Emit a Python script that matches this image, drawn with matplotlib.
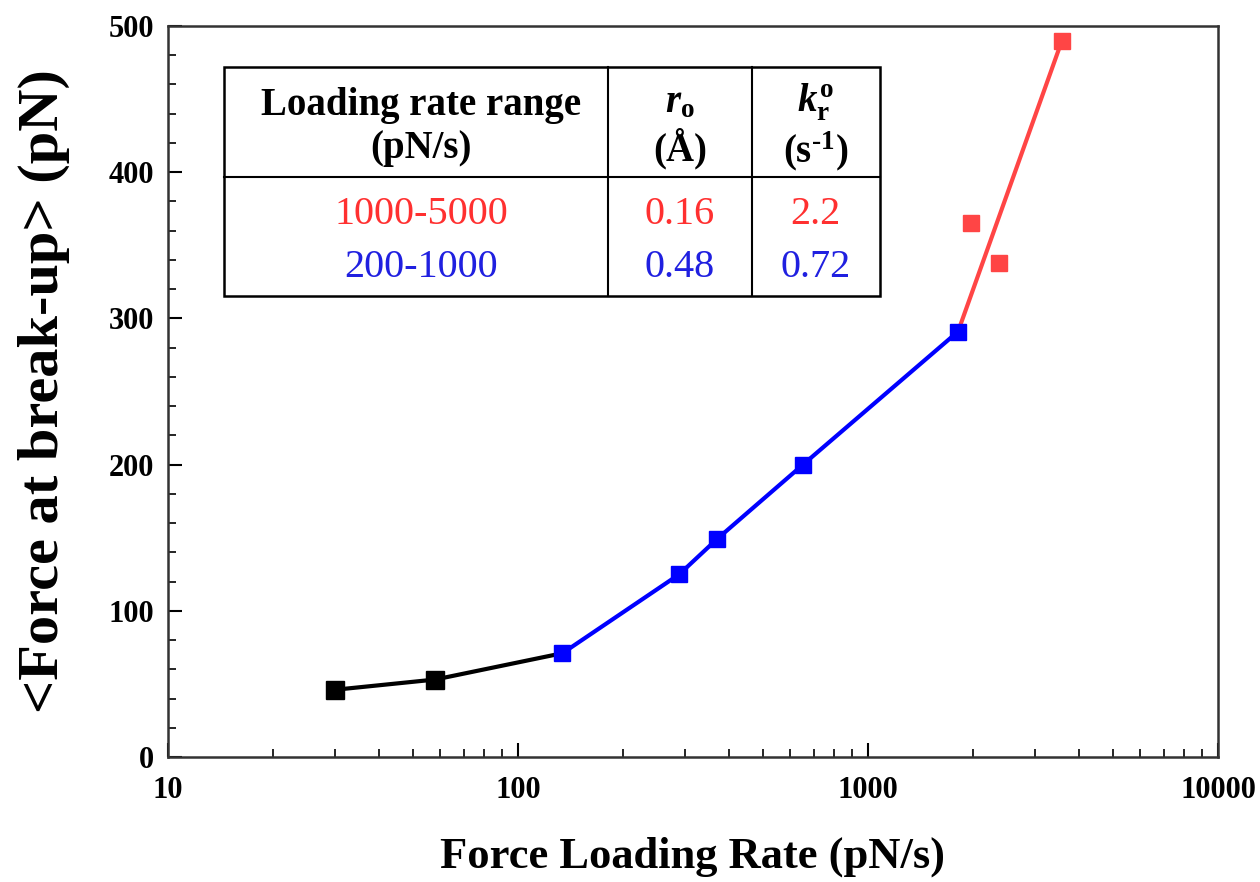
import matplotlib
matplotlib.use("Agg")
import matplotlib.pyplot as plt
from matplotlib.ticker import FixedLocator, MultipleLocator, LogLocator, NullFormatter

plt.rcParams['font.family'] = ['Liberation Serif', 'DejaVu Serif']
plt.rcParams['mathtext.fontset'] = 'custom'
plt.rcParams['mathtext.rm'] = 'Liberation Serif:bold'
plt.rcParams['mathtext.it'] = 'Liberation Serif:italic:bold'
plt.rcParams['mathtext.bf'] = 'Liberation Serif:bold'

# Data
black_x = [30, 58, 134]
black_y = [46, 53, 71]
blue_x = [134, 289, 370, 652, 1808]
blue_y = [71, 125, 149, 200, 291]
red_x = [1967, 2366, 3581]
red_y = [365, 338, 490]

x_ticks = [10, 100, 1000, 10000]
x_ticklabels = ["10", "100", "1000", "10000"]
y_ticks = [0, 100, 200, 300, 400, 500]

table_header = ["Loading rate range\n(pN/s)", "$r_{\\rm o}$\n(Å)", "$k_{\\rm r}^{\\rm o}$\n(s$^{\\text{-1}}$)"]
table_rows = [["1000-5000", "0.16", "2.2"], ["200-1000", "0.48", "0.72"]]
row_colors = ["#ff3030", "#2020e0"]

RED = "#ff4545"
BLUE = "#0000ff"

fig = plt.figure(figsize=(12.6, 8.82), dpi=100)
ax = fig.add_axes([0.1333, 0.1417, 0.8334, 0.8288])

# lines
ax.plot(black_x, black_y, color="black", lw=3, zorder=2)
ax.plot(blue_x, blue_y, color=BLUE, lw=3, zorder=2)
ax.plot([blue_x[-1], red_x[-1]], [blue_y[-1], red_y[-1]], color=RED, lw=3, zorder=2)

# markers
ax.plot(black_x[:-1], black_y[:-1], ls="none", marker="s", ms=13, color="black", zorder=3)
ax.plot(blue_x, blue_y, ls="none", marker="s", ms=12, color=BLUE, zorder=3)
ax.plot(red_x, red_y, ls="none", marker="s", ms=12, color=RED, zorder=3)

ax.set_xscale("log")
ax.set_xlim(10, 10000)
ax.set_ylim(0, 500)
ax.xaxis.set_major_locator(FixedLocator(x_ticks))
ax.set_xticklabels(x_ticklabels)
ax.xaxis.set_minor_locator(LogLocator(base=10, subs=range(2, 10)))
ax.xaxis.set_minor_formatter(NullFormatter())
ax.yaxis.set_major_locator(FixedLocator(y_ticks))
ax.yaxis.set_minor_locator(MultipleLocator(20))

ax.tick_params(which="major", direction="in", length=10, width=1.5, labelsize=22)
ax.tick_params(which="minor", direction="in", length=6, width=1.2)
ax.tick_params(axis="x", which="major", pad=14)
ax.tick_params(axis="y", which="major", pad=10)
for lab in ax.get_xticklabels() + ax.get_yticklabels():
    lab.set_fontweight("bold")
for s in ax.spines.values():
    s.set_linewidth(1.8)
    s.set_color("#333333")

ax.set_xlabel("Force Loading Rate (pN/s)", fontsize=32, fontweight="bold", labelpad=22)
ax.set_ylabel("<Force at break-up> (pN)", fontsize=42, fontweight="bold", labelpad=28)

# table drawn in axes coordinates
tx0, tx1 = 0.0533, 0.678
cx1, cx2 = 0.419, 0.556
ty_top, ty_mid, ty_bot = 0.944, 0.793, 0.631
tr = ax.transAxes
ax.add_patch(plt.Rectangle((tx0, ty_bot), tx1 - tx0, ty_top - ty_bot, transform=tr,
                           fill=True, facecolor="white", edgecolor="black", lw=1.8, zorder=4))
ax.plot([tx0, tx1], [ty_mid, ty_mid], transform=tr, color="black", lw=1.5, zorder=5)
ax.plot([cx1, cx1], [ty_bot, ty_top], transform=tr, color="black", lw=1.5, zorder=5)
ax.plot([cx2, cx2], [ty_bot, ty_top], transform=tr, color="black", lw=1.5, zorder=5)

col_centers = [(tx0 + cx1) / 2 + 0.005, (cx1 + cx2) / 2, (cx2 + tx1) / 2]
for c, txt in zip(col_centers, table_header):
    ax.text(c, 0.862, txt, transform=tr, ha="center", va="center",
            fontsize=28, fontweight="bold", linespacing=1.2, zorder=6)
row_y = [0.742, 0.669]
for r, (row, col) in enumerate(zip(table_rows, row_colors)):
    for j, (c, txt) in enumerate(zip(col_centers, row)):
        ax.text(c, row_y[r], txt, transform=tr, ha="center", va="center",
                fontsize=29, color=col, zorder=6)

fig.savefig("out.png", dpi=100)
